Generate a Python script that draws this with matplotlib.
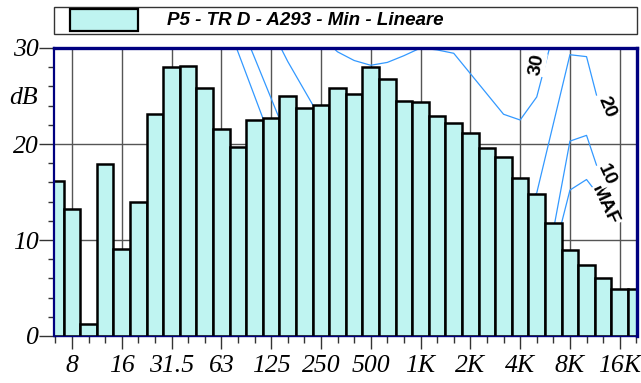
import matplotlib.pyplot as plt
import matplotlib.patches as patches
from matplotlib.ticker import MultipleLocator

# third-octave bands (bar positions are band indices)
bands = ['6.3', '8', '10', '12.5', '16', '20', '25', '31.5', '40', '50', '63', '80',
         '100', '125', '160', '200', '250', '315', '400', '500', '630', '800',
         '1K', '1.25K', '1.6K', '2K', '2.5K', '3.15K', '4K', '5K', '6.3K', '8K',
         '10K', '12.5K', '16K', '20K']
levels = [16.1, 13.2, 1.2, 17.9, 9.1, 14.0, 23.1, 28.0, 28.1, 25.8, 21.6, 19.7,
          22.5, 22.7, 25.0, 23.8, 24.1, 25.8, 25.2, 28.0, 26.8, 24.5,
          24.4, 22.9, 22.2, 21.1, 19.6, 18.6, 16.5, 14.8, 11.8, 9.0,
          7.4, 6.0, 4.9, 4.85]
octave_labels = ['8', '16', '31.5', '63', '125', '250', '500', '1K', '2K', '4K', '8K', '16K']

# reference curves (band index, dB)
c30_x = [16, 17, 18, 19, 20, 21, 22, 23, 24, 27, 28, 29, 30]
c30_y = [31.2, 29.6, 28.7, 28.2, 28.5, 29.2, 30.0, 29.8, 29.45, 23.1, 22.5, 24.9, 31.5]
c20_x = [13, 14, 15, 16, 17, 18, 19, 20, 21, 22, 23, 24, 25, 26, 27, 28, 29, 31, 32, 32.6]
c20_y = [32.0, 28.6, 25.6, 22.6, 22.0, 21.0, 20.5, 20.2, 20.0, 20.0, 19.5, 18.5, 17.0,
         15.5, 14.0, 13.0, 14.9, 29.3, 29.1, 25.1]
c10_x = [11, 12, 13, 14, 15, 16, 17, 18, 19, 20, 21, 22, 23, 24, 25, 26, 27, 28, 29,
         30, 31, 32, 32.6]
c10_y = [33.2, 29.0, 24.75, 20.5, 17.5, 15.0, 13.0, 12.0, 11.0, 10.5, 10.0, 10.0, 9.5,
         8.5, 7.0, 5.5, 4.5, 4.0, 5.0, 11.0, 20.3, 20.9, 17.8]
maf_x = [10, 11, 12, 13, 14, 15, 16, 17, 18, 19, 20, 21, 22, 23, 24, 25, 26, 27, 28,
         29, 30, 31, 32, 32.4]
maf_y = [34.2, 29.6, 25.0, 20.4, 16.0, 13.0, 10.5, 8.5, 7.0, 6.0, 5.5, 5.0, 5.0, 4.5,
         3.5, 2.0, 1.0, 0.5, 0.5, 2.0, 8.4, 15.2, 16.3, 15.4]

curve_labels = ['30', '20', 'MAF', '10']
curve_label_x = [29.0, 33.23, 33.11, 33.17]
curve_label_y = [28.3, 23.85, 13.6, 16.8]
curve_label_rot = [80, -67, -65, -65]

title = 'P5 - TR D - A293 - Min - Lineare'

W, H = 641, 383
fig = plt.figure(figsize=(W / 100, H / 100), dpi=100)
ax = fig.add_axes([54 / W, 1 - 336 / H, 583 / W, 288 / H])

bar_color = '#BFF4F1'
navy = '#000080'
blue = '#3399FF'

x = list(range(len(bands)))
ax.bar(x, levels, width=1.0, color=bar_color, edgecolor='black', linewidth=1.8, zorder=2)

for cx, cy in [(c30_x, c30_y), (c20_x, c20_y), (c10_x, c10_y), (maf_x, maf_y)]:
    ax.plot(cx, cy, color=blue, lw=0.9, zorder=1)

for txt, lx, ly, rot in zip(curve_labels, curve_label_x, curve_label_y, curve_label_rot):
    ax.text(lx, ly, txt, rotation=rot, ha='center', va='center', fontsize=14,
            fontweight='bold', family='Liberation Sans', zorder=3,
            bbox=dict(facecolor='white', edgecolor='none', pad=0.5))

ax.set_xlim(-0.08, 35.04)
ax.set_ylim(0, 30)

major_pos = [bands.index(l) for l in octave_labels]
ax.set_xticks(major_pos)
ax.set_xticks(x, minor=True)
ax.set_xticklabels(octave_labels, fontsize=18.5, fontstyle='italic', family='Liberation Serif')
ax.set_yticks([0, 10, 20, 30])
ax.yaxis.set_minor_locator(MultipleLocator(2))
ax.set_yticklabels(['0', '10', '20', '30'], fontsize=18.5, fontstyle='italic',
                   family='Liberation Serif')

ax.tick_params(axis='y', which='major', length=11, width=1, color='#333333', pad=0)
ax.tick_params(axis='y', which='minor', length=4.5, width=1, color='#333333')
ax.tick_params(axis='x', which='major', length=9.5, width=1, color='#333333', pad=4)
ax.tick_params(axis='x', which='minor', length=5, width=1, color='#333333')

ax.set_axisbelow(True)
ax.grid(True, which='major', color='#555555', lw=1)

for side, lw in [('left', 1.6), ('top', 2.4), ('right', 2.4), ('bottom', 1.0)]:
    ax.spines[side].set_color(navy)
    ax.spines[side].set_linewidth(lw)

fig.text(24 / W, 1 - 98 / H, 'dB', ha='center', va='center', fontsize=18.5,
         fontstyle='italic', family='Liberation Serif')

# legend box on top
fig.patches.append(patches.Rectangle((54 / W, 1 - 34 / H), 583 / W, 27 / H,
                                     transform=fig.transFigure, facecolor='white',
                                     edgecolor='#333333', lw=1))
fig.patches.append(patches.Rectangle((70 / W, 1 - 30.7 / H), 67.7 / W, 21.4 / H,
                                     transform=fig.transFigure, facecolor=bar_color,
                                     edgecolor='black', lw=1.6))
fig.text(167 / W, 1 - 20.5 / H, title, ha='left', va='center', fontsize=13.5,
         fontweight='bold', fontstyle='italic', family='Liberation Sans')

fig.savefig('out.png', dpi=100)
